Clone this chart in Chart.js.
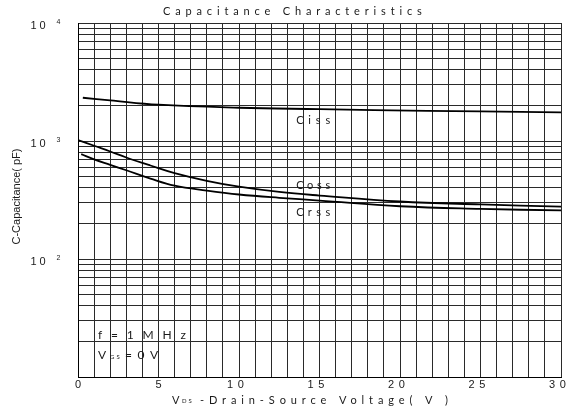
<!DOCTYPE html>
<html>
<head>
<meta charset="utf-8">
<script src="https://cdn.jsdelivr.net/npm/chart.js@4/dist/chart.umd.min.js"></script>
<style>
  html, body { margin: 0; padding: 0; background: #fff; }
  #wrap { width: 569px; height: 411px; }
</style>
</head>
<body>
<div id="wrap"><canvas id="capChart" width="569" height="411"></canvas></div>
<script>
// values
const cissVolts = [0.3, 2, 5, 10, 15, 18.4, 25, 30];
const cissPF = [2325, 2210, 2030, 1914, 1860, 1828, 1780, 1745];
const cossVolts = [0, 1, 2, 3, 4.5, 6, 8, 10, 12.5, 15, 20, 25, 30];
const cossPF = [1020, 911, 815, 725, 620, 535, 460, 410, 370, 345, 307, 290, 278];
const crssVolts = [0.2, 1, 2, 3, 4.5, 6, 8, 10, 12.5, 15, 20, 25, 30];
const crssPF = [774, 698, 628, 565, 480, 418, 380, 352, 330, 313, 280, 266, 258];

// axis ticks / grid
const xTickLabels = [0, 5, 10, 15, 20, 25, 30];
const yTickLabels = [100, 1000, 10000];
const yGridValues = [
  10, 20, 30, 40, 50, 60, 70, 80, 90,
  100, 200, 300, 400, 500, 600, 700, 800, 900,
  1000, 2000, 3000, 4000, 5000, 6000, 7000, 8000, 9000,
  10000
];

// curve names and where their names sit (in data units)
const curveNames = ["Ciss", "Coss", "Crss"];
const curveNameVolts = [13.55, 13.55, 13.55];
const curveNamePF = [1503, 423, 250];

const toPoints = (xs, ys) => xs.map((v, i) => ({ x: v, y: ys[i] }));

const SANS = '"Liberation Sans", Arial, sans-serif';
const HUMAN = 'Lato, "Open Sans", sans-serif';

/**
 * Draws text stretched between left and right by letter spacing
 */
function fitText(ctx, text, left, right, y) {
  ctx.letterSpacing = "0px";
  const w = ctx.measureText(text).width;
  const s = text.length > 1 ? (right - left - w) / (text.length - 1) : 0;
  ctx.letterSpacing = s + "px";
  ctx.textAlign = "left";
  ctx.fillText(text, left, y);
  ctx.letterSpacing = "0px";
}

const textPlugin = {
  id: "capTexts",
  afterDraw(chart) {
    const { ctx, scales: { x, y } } = chart;
    ctx.save();
    ctx.fillStyle = "#1a1a1a";
    ctx.textBaseline = "middle";

    // title
    ctx.font = "11px " + HUMAN;
    fitText(ctx, "Capacitance Characteristics", 163, 422, 11);

    // y tick labels, 10 with a raised exponent
    for (const v of yTickLabels) {
      const py = y.getPixelForValue(v);
      ctx.font = "11px " + SANS;
      ctx.letterSpacing = "3px";
      ctx.textAlign = "left";
      ctx.fillText("10", 30.5, py + 2.5);
      ctx.letterSpacing = "0px";
      ctx.font = "7px " + SANS;
      ctx.fillText(String(Math.round(Math.log10(v))), 56.5, py - 0.5);
    }

    // x tick labels
    ctx.font = "11px " + SANS;
    for (const v of xTickLabels) {
      const px = x.getPixelForValue(v);
      const txt = String(v);
      const sp = 4.7;
      ctx.letterSpacing = "0px";
      const total = ctx.measureText(txt).width + sp * (txt.length - 1);
      ctx.letterSpacing = sp + "px";
      ctx.textAlign = "left";
      ctx.fillText(txt, px - total / 2 - (txt.length > 1 ? 3.5 : 0), 384.5);
    }
    ctx.letterSpacing = "0px";

    // x axis title with subscript
    ctx.font = "11px " + HUMAN;
    ctx.textAlign = "left";
    ctx.fillText("V", 172, 400);
    ctx.font = "6px " + HUMAN;
    ctx.letterSpacing = "2px";
    ctx.fillText("DS", 182, 401.5);
    ctx.letterSpacing = "0px";
    ctx.font = "11px " + HUMAN;
    fitText(ctx, "-Drain-Source Voltage( V )", 200, 448, 400);

    // y axis title
    ctx.save();
    ctx.translate(17, 196.5);
    ctx.rotate(-Math.PI / 2);
    ctx.font = "11px " + SANS;
    ctx.textAlign = "center";
    ctx.fillText("C-Capacitance( pF)", 0, 0);
    ctx.restore();

    // curve names
    ctx.font = "11px " + HUMAN;
    curveNames.forEach((n, i) => {
      const px = x.getPixelForValue(curveNameVolts[i]);
      const py = y.getPixelForValue(curveNamePF[i]);
      fitText(ctx, n, px, px + 34, py);
    });

    // test conditions
    ctx.font = "12px " + HUMAN;
    fitText(ctx, "f = 1 M H z", 98, 186, 335);
    ctx.fillText("V", 98, 355);
    ctx.font = "6px " + HUMAN;
    ctx.letterSpacing = "2px";
    ctx.fillText("GS", 110, 357);
    ctx.letterSpacing = "0px";
    ctx.font = "12px " + HUMAN;
    fitText(ctx, "= 0 V", 125, 158, 355);

    ctx.restore();
  }
};

const curveStyle = {
  borderColor: "#000",
  borderWidth: 1.8,
  pointRadius: 0,
  fill: false,
  tension: 0.4
};

new Chart(document.getElementById("capChart"), {
  type: "line",
  data: {
    datasets: [
      { label: "Ciss", data: toPoints(cissVolts, cissPF), ...curveStyle },
      { label: "Coss", data: toPoints(cossVolts, cossPF), ...curveStyle },
      { label: "Crss", data: toPoints(crssVolts, crssPF), ...curveStyle },
    ]
  },
  options: {
    responsive: false,
    animation: false,
    devicePixelRatio: 1,
    layout: { padding: { left: 78, top: 23, right: 8, bottom: 34 } },
    plugins: {
      legend: { display: false },
      title: { display: false },
      tooltip: { enabled: false }
    },
    scales: {
      x: {
        type: "linear",
        min: 0,
        max: 30,
        ticks: { display: false, stepSize: 1 },
        grid: { color: "#2a2a2a", lineWidth: 1, drawTicks: false },
        border: { color: "#000", width: 1 }
      },
      y: {
        type: "logarithmic",
        min: 10,
        max: 10000,
        afterBuildTicks: (scale) => {
          scale.ticks = yGridValues.map(v => ({ value: v }));
        },
        ticks: { display: false },
        grid: { color: "#2a2a2a", lineWidth: 1, drawTicks: false },
        border: { color: "#000", width: 1 }
      }
    }
  },
  plugins: [textPlugin]
});
</script>
</body>
</html>
